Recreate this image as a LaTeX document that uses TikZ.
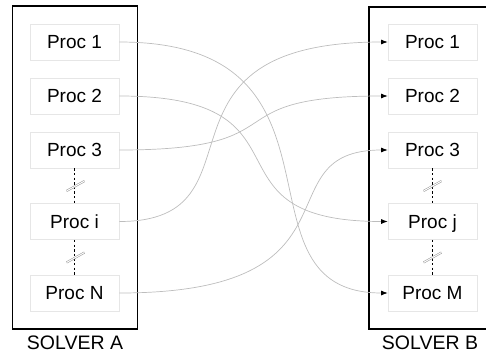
\documentclass[tikz,border=0pt]{standalone}
\usepackage{fontspec}
\setmainfont{Liberation Sans}
\usetikzlibrary{arrows.meta,calc}
\definecolor{boxedge}{HTML}{E6E6E6}
\definecolor{wire}{HTML}{BDBDBD}
\tikzset{
  solverbox/.style={draw=black,line width=1.6pt},
  procbox/.style={draw=boxedge,fill=white,line width=0.8pt,minimum width=89pt,minimum height=36pt,inner sep=0pt,
    text height=13.5pt,text depth=0pt,font=\fontsize{19}{22}\selectfont},
  solverlabel/.style={inner sep=0pt,text height=13.5pt,text depth=0pt,font=\fontsize{19.5}{22}\selectfont},
  wirelink/.style={draw=wire,line width=0.7pt,-{Latex[black,length=6.5pt,width=5pt]}},
  dots/.style={draw=black,line width=1.6pt,dash pattern=on 2.4pt off 2.2pt},
  breakmark/.style={draw=gray!85,line width=0.5pt,double=white,double distance=1pt}
}
\begin{document}
\begin{tikzpicture}[x=1pt,y=-1pt]
\useasboundingbox (0,0) rectangle (486,353);
% solver frames
\draw[solverbox] (12.3,5.8) rectangle (137.6,329);
\draw[solverbox] (369,6.8) rectangle (488,329);
\node[solverlabel] (la) at (75,342.5) {SOLVER A};
\node[solverlabel] (lb) at (430,342.5) {SOLVER B};
% left processes
\node[procbox] (a1) at (74.5,42) {Proc 1};
\node[procbox] (a2) at (74.5,96) {Proc 2};
\node[procbox] (a3) at (74.5,150) {Proc 3};
\node[procbox] (ai) at (74.5,221.5) {Proc i};
\node[procbox] (an) at (74.5,293) {Proc N};
% right processes
\node[procbox] (b1) at (432.5,42) {Proc 1};
\node[procbox] (b2) at (432.5,96) {Proc 2};
\node[procbox] (b3) at (432.5,150) {Proc 3};
\node[procbox] (bj) at (432.5,221.5) {Proc j};
\node[procbox] (bm) at (432.5,293) {Proc M};
% dotted continuation lines
\draw[dots] (a3.south) -- (ai.north);
\draw[dots] (ai.south) -- (an.north);
\draw[dots] (b3.south) -- (bj.north);
\draw[dots] (bj.south) -- (bm.north);
% break marks
\coordinate (ka) at (75.5,186);
\coordinate (kb) at (75.5,257.5);
\coordinate (kc) at (432.5,186);
\coordinate (kd) at (432.5,257.5);
\foreach \k in {ka,kb,kc,kd}{
  \draw[breakmark] ($(\k)+(-9,5)$) -- ($(\k)+(9,-5)$);
}
% connectors
\draw[wirelink] (a1.east) .. controls +(248,0) and +(-163,0) .. (bm.west);
\draw[wirelink] (a2.east) .. controls +(204,0) and +(-193,0) .. (bj.west);
\draw[wirelink] (a3.east) .. controls +(185,0) and +(-180,0) .. (b2.west);
\draw[wirelink] (ai.east) .. controls +(153,0) and +(-253,0) .. (b1.west);
\draw[wirelink] (an.east) .. controls +(253,0) and +(-128,0) .. (b3.west);
\end{tikzpicture}
\end{document}
